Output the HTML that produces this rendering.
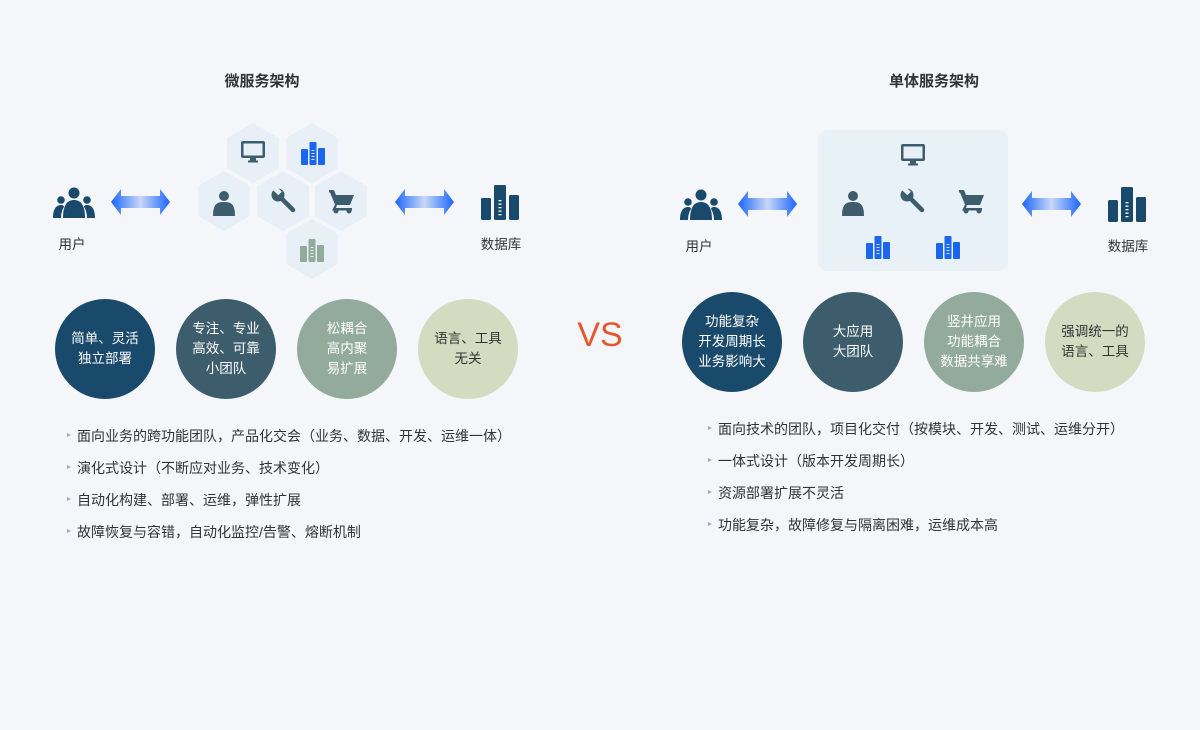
<!DOCTYPE html>
<html><head><meta charset="utf-8"><style>
body{margin:0;width:1200px;height:730px;background:#f4f6fa;font-family:"Liberation Sans","Noto Sans CJK SC",sans-serif;overflow:hidden;position:relative}
.t{position:absolute;white-space:nowrap;transform:translateX(-50%)}
.title{font-size:15px;font-weight:bold;color:#333}
.lbl{font-size:13.5px;color:#333}
.c{position:absolute;width:100px;height:100px;border-radius:50%;display:flex;align-items:center;justify-content:center;text-align:center;font-size:13.5px;line-height:20px}
.b{position:absolute;font-size:14px;color:#333;white-space:nowrap}
.b:before{content:"";position:absolute;left:-10px;top:7px;border-left:4px solid #aab;border-top:2.5px solid transparent;border-bottom:2.5px solid transparent}
</style></head><body>
<svg width="1200" height="730" style="position:absolute;left:0;top:0">
<defs>
<linearGradient id="g" x1="0" x2="1"><stop offset="0" stop-color="#1a66ff"/><stop offset="0.5" stop-color="#c9d8f6"/><stop offset="1" stop-color="#1a66ff"/></linearGradient>
<g id="arr"><polygon points="0,0 10,-13 10,-6 49,-6 49,-13 59,0 49,13 49,6 10,6 10,13" fill="url(#g)"/></g>
<g id="hex"><polygon points="0,-30 26,-15 26,15 0,30 -26,15 -26,-15" fill="#e8eff7"/></g>
<g id="mon"><rect x="-12" y="-10" width="24" height="17" rx="2" fill="#3d5d6c"/><rect x="-9.5" y="-7.5" width="19" height="12" fill="#e8eff7"/><rect x="-3" y="7" width="6" height="3" fill="#3d5d6c"/><rect x="-5" y="9.5" width="10" height="2" fill="#3d5d6c"/></g>
<g id="bars"><rect x="-12" y="-4" width="7" height="16" rx="1"/><rect x="-3.5" y="-11" width="7" height="23" rx="1"/><rect x="5" y="-5" width="7" height="17" rx="1"/><g fill="#fff" opacity=".8"><rect x="-1.5" y="-3" width="3" height="1"/><rect x="-1.5" y="0" width="3" height="1"/><rect x="-1.5" y="3" width="3" height="1"/><rect x="-1.5" y="6" width="3" height="1"/></g></g>
<g id="per" fill="#3d5d6c"><circle cx="0" cy="-7" r="5"/><path d="M-11,13 C-11,0 -6,-1 0,-1 C6,-1 11,0 11,13 Z"/></g>
<g id="wr"><line x1="-4" y1="-4" x2="9" y2="9" stroke="#3d5d6c" stroke-width="4.5" stroke-linecap="round"/><circle cx="-6" cy="-6" r="6.5" fill="#3d5d6c"/><rect x="-10" y="-16" width="5" height="10" fill="#e8eff7" transform="rotate(-45 -7.5 -11)"/></g>
<g id="cart" fill="#3d5d6c"><path d="M-13,-11 h5 l2,5 h18 l-4,10 h-13 l-1,3 h16 v2.5 h-20 l3,-6 -5,-12 h-1 z"/><circle cx="-6" cy="10" r="2.5"/><circle cx="7" cy="10" r="2.5"/></g>
<g id="usr" fill="#1a4a6b"><circle cx="0" cy="-9" r="5.5"/><path d="M-11,16 C-11,2 -6,-2 0,-2 C6,-2 11,2 11,16Z"/><circle cx="-13" cy="-2" r="3.8"/><circle cx="13" cy="-2" r="3.8"/><path d="M-21,16 C-21,6 -17,3 -13,3 C-11,3 -10,4 -10,5 C-12,8 -13,12 -13,16Z"/><path d="M21,16 C21,6 17,3 13,3 C11,3 10,4 10,5 C12,8 13,12 13,16Z"/></g>
<g id="db"><rect x="-19" y="-4" width="10" height="22" rx="1.5" fill="#1a4a6b"/><rect x="-6" y="-17" width="12" height="35" rx="1.5" fill="#1a4a6b"/><rect x="9" y="-7" width="10" height="25" rx="1.5" fill="#1a4a6b"/><g fill="#fff"><rect x="-1.5" y="-2" width="3" height="1.3"/><rect x="-1.5" y="1.5" width="3" height="1.3"/><rect x="-1.5" y="5" width="3" height="1.3"/><rect x="-1.5" y="8.5" width="3" height="1.3"/><rect x="-1.5" y="12" width="3" height="1.3"/></g></g>
</defs>
<use href="#hex" x="253" y="153"/><use href="#hex" x="312" y="153"/><use href="#hex" x="224" y="201"/><use href="#hex" x="283" y="201"/><use href="#hex" x="341" y="201"/><use href="#hex" x="312" y="249"/>
<use href="#mon" x="253" y="151"/><use href="#bars" x="313" y="153" fill="#1a66ee"/><use href="#per" x="224" y="203"/><use href="#wr" x="284" y="201"/><use href="#cart" x="342" y="201"/><use href="#bars" x="312" y="250" fill="#93ab9c"/>
<use href="#usr" x="74" y="202"/><use href="#db" x="500" y="202"/>
<use href="#arr" x="111" y="202"/><use href="#arr" x="395" y="202"/>
<rect x="818" y="130" width="190" height="141" rx="10" fill="#e8f0f8"/>
<use href="#mon" x="913" y="154"/><use href="#per" x="853" y="203"/><use href="#wr" x="913" y="201"/><use href="#cart" x="972" y="201"/>
<use href="#bars" x="878" y="247" fill="#1a66ee"/><use href="#bars" x="948" y="247" fill="#1a66ee"/>
<use href="#usr" x="701" y="204"/><use href="#db" x="1127" y="204"/>
<use href="#arr" x="738" y="204"/><use href="#arr" x="1022" y="204"/>
</svg>
<div class="t title" style="left:262px;top:70px">微服务架构</div>
<div class="t title" style="left:934px;top:70px">单体服务架构</div>
<div class="t lbl" style="left:72px;top:233px">用户</div>
<div class="t lbl" style="left:501px;top:233px">数据库</div>
<div class="t lbl" style="left:699px;top:235px">用户</div>
<div class="t lbl" style="left:1128px;top:235px">数据库</div>
<div class="t" style="left:600px;top:316px;font-size:34px;color:#e4572e">VS</div>
<div class="c" style="left:55px;top:299px;background:#1a4a6b;color:#fff">简单、灵活<br>独立部署</div>
<div class="c" style="left:176px;top:299px;background:#3d5d6c;color:#fff">专注、专业<br>高效、可靠<br>小团队</div>
<div class="c" style="left:297px;top:299px;background:#93ab9c;color:#fff">松耦合<br>高内聚<br>易扩展</div>
<div class="c" style="left:418px;top:299px;background:#d3dcc0;color:#333">语言、工具<br>无关</div>
<div class="c" style="left:682px;top:292px;background:#1a4a6b;color:#fff">功能复杂<br>开发周期长<br>业务影响大</div>
<div class="c" style="left:803px;top:292px;background:#3d5d6c;color:#fff">大应用<br>大团队</div>
<div class="c" style="left:924px;top:292px;background:#93ab9c;color:#fff">竖井应用<br>功能耦合<br>数据共享难</div>
<div class="c" style="left:1045px;top:292px;background:#d3dcc0;color:#333">强调统一的<br>语言、工具</div>
<div class="b" style="left:77px;top:426px">面向业务的跨功能团队，产品化交会（业务、数据、开发、运维一体）</div>
<div class="b" style="left:77px;top:458px">演化式设计（不断应对业务、技术变化）</div>
<div class="b" style="left:77px;top:490px">自动化构建、部署、运维，弹性扩展</div>
<div class="b" style="left:77px;top:522px">故障恢复与容错，自动化监控/告警、熔断机制</div>
<div class="b" style="left:718px;top:419px">面向技术的团队，项目化交付（按模块、开发、测试、运维分开）</div>
<div class="b" style="left:718px;top:451px">一体式设计（版本开发周期长）</div>
<div class="b" style="left:718px;top:483px">资源部署扩展不灵活</div>
<div class="b" style="left:718px;top:515px">功能复杂，故障修复与隔离困难，运维成本高</div>
</body></html>
